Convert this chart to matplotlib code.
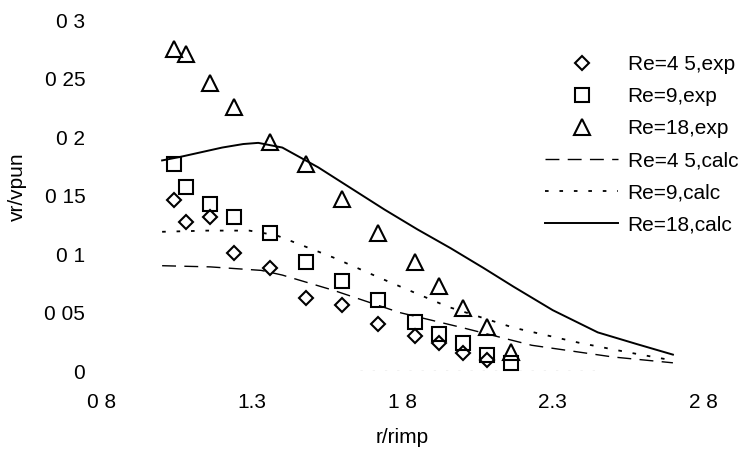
import matplotlib.pyplot as plt
from matplotlib.lines import Line2D

plt.rcParams['font.family'] = ['Liberation Sans', 'DejaVu Sans']

x_exp = [1.04, 1.08, 1.16, 1.24, 1.36, 1.48, 1.60, 1.72, 1.84, 1.92, 2.00, 2.08, 2.16]
re18_exp = [0.275, 0.271, 0.246, 0.226, 0.196, 0.177, 0.147, 0.118, 0.093, 0.073, 0.054, 0.038, 0.016]
re9_exp = [0.177, 0.157, 0.143, 0.132, 0.118, 0.093, 0.077, 0.061, 0.042, 0.032, 0.024, 0.014, 0.007]
x_exp45 = [1.04, 1.08, 1.16, 1.24, 1.36, 1.48, 1.60, 1.72, 1.84, 1.92, 2.00, 2.08]
re45_exp = [0.146, 0.127, 0.132, 0.101, 0.088, 0.062, 0.056, 0.040, 0.030, 0.024, 0.015, 0.009]

# curvas calculadas
x18_calc = [1.00, 1.06, 1.13, 1.20, 1.27, 1.32, 1.40, 1.52, 1.63, 1.74, 1.85, 1.96, 2.07, 2.17, 2.30, 2.45, 2.58, 2.70]
re18_calc = [0.180, 0.183, 0.187, 0.191, 0.194, 0.195, 0.191, 0.174, 0.156, 0.138, 0.121, 0.105, 0.088, 0.072, 0.052, 0.033, 0.023, 0.014]
x9_calc = [1.00, 1.15, 1.29, 1.38, 1.47, 1.57, 1.73, 1.95, 2.17, 2.39, 2.55, 2.70]
re9_calc = [0.119, 0.120, 0.120, 0.116, 0.107, 0.097, 0.079, 0.055, 0.037, 0.024, 0.016, 0.009]
x45_calc = [1.00, 1.16, 1.33, 1.40, 1.57, 1.79, 2.00, 2.23, 2.50, 2.70]
re45_calc = [0.090, 0.089, 0.086, 0.082, 0.069, 0.050, 0.037, 0.022, 0.012, 0.007]

xticks = [0.8, 1.3, 1.8, 2.3, 2.8]
xlabels = ['0 8', '1.3', '1 8', '2.3', '2 8']
yticks = [0, 0.05, 0.1, 0.15, 0.2, 0.25, 0.3]
ylabels = ['0', '0 05', '0 1', '0 15', '0 2', '0 25', '0 3']

fig = plt.figure(figsize=(7.48, 4.53), dpi=100)
ax = fig.add_axes([0.1364, 0.181, 0.8034, 0.7748])

mk = dict(linestyle='none', markerfacecolor='none', markeredgecolor='black', markeredgewidth=1.5)
ax.plot(x_exp45, re45_exp, marker='D', markersize=7.5, **mk)
ax.plot(x_exp, re9_exp, marker='s', markersize=10, **mk)
ax.plot(x_exp, re18_exp, marker='^', markersize=11, **mk)

ax.plot(x45_calc, re45_calc, color='black', lw=1.0, dashes=(10, 6))
ax.plot(x9_calc, re9_calc, color='black', lw=1.3, dashes=(2, 6))
ax.plot(x18_calc, re18_calc, color='black', lw=1.4)

# restos del eje x escaneado
ax.plot([1.66, 2.46], [0, 0], color='black', lw=0.8, dashes=(2, 9))

ax.set_xlim(0.8, 2.8)
ax.set_ylim(0, 0.3)
ax.set_xticks(xticks)
ax.set_xticklabels(xlabels)
ax.set_yticks(yticks)
ax.set_yticklabels(ylabels)
ax.tick_params(length=0, labelsize=15)
ax.tick_params(axis='y', pad=12)
ax.tick_params(axis='x', pad=16)
for s in ax.spines.values():
    s.set_visible(False)

ax.set_xlabel('r/rimp', fontsize=15, labelpad=11)
ax.set_ylabel('vr/vpun', fontsize=15, labelpad=14)
ax.yaxis.set_label_coords(-0.125, 0.524)

handles = [
    Line2D([], [], marker='D', markersize=7.5, **mk),
    Line2D([], [], marker='s', markersize=10, **mk),
    Line2D([], [], marker='^', markersize=11, **mk),
    Line2D([], [], color='black', lw=1.0, dashes=(10, 6)),
    Line2D([], [], color='black', lw=1.3, dashes=(2, 6)),
    Line2D([], [], color='black', lw=1.4),
]
labels = ['Re=4 5,exp', 'Re=9,exp', 'Re=18,exp', 'Re=4 5,calc', 'Re=9,calc', 'Re=18,calc']
fig.legend(handles, labels, loc='upper left', bbox_to_anchor=(0.715, 0.902),
           frameon=False, fontsize=15, handlelength=3.5, handletextpad=0.45,
           labelspacing=0.63, borderpad=0)

fig.savefig('out.png', dpi=100)
